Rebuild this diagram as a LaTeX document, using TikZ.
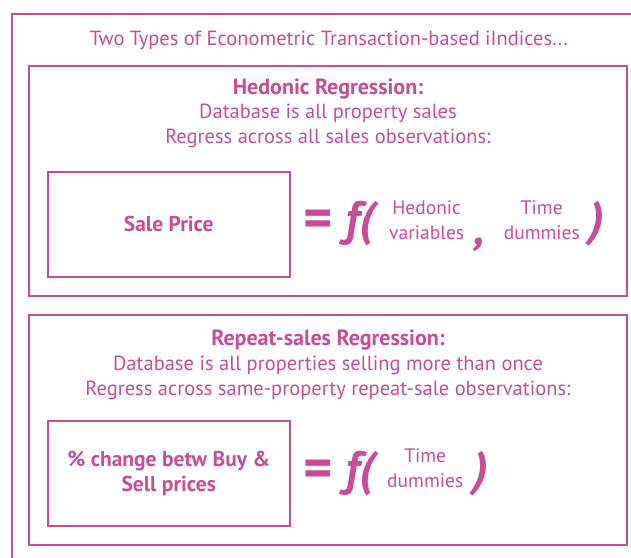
\documentclass[tikz,border=0pt]{standalone}
\usepackage{fontspec}
\setmainfont{PT Sans}
\usetikzlibrary{positioning}
\definecolor{regpink}{RGB}{201,76,151}

\begin{document}
\begin{tikzpicture}[x=1pt, y=1pt,
    panel/.style={draw=regpink, line width=2pt, minimum width=598pt, minimum height=230pt, inner sep=0pt},
    lhs/.style={draw=regpink, line width=2pt, minimum width=242pt, minimum height=105pt, text=regpink, align=center, font=\bfseries\fontsize{21.5}{25}\selectfont},
    head/.style={text=regpink, inner sep=0pt, font=\bfseries\fontsize{22}{25}\selectfont},
    txt/.style={text=regpink, align=center, inner sep=0pt, font=\fontsize{20.5}{25}\selectfont},
    args/.style={text=regpink, align=center, inner sep=0pt, font=\fontsize{19.5}{25}\selectfont},
    eqsym/.style={text=regpink, inner sep=0pt, font=\bfseries\fontsize{56}{56}\selectfont},
    bigsym/.style={text=regpink, inner sep=0pt, font=\bfseries\itshape\fontsize{48}{48}\selectfont}]
    \useasboundingbox (0,0) rectangle (631,-557);

    % outer frame, open to the right and bottom
    \draw[regpink, line width=2pt] (12,-570) -- (12,-13.7) -- (650,-13.7);
    \node[txt] (title) at (329,-40) {Two Types of Econometric Transaction-based iIndices...};

    % hedonic
    \node[panel] (hedpanel) at (328,-180.7) {};
    \node[head] (hedhead) at (328,-89) {Hedonic Regression:};
    \node[txt] (hedtext) at (328,-125.5) {Database is all property sales\\Regress across all sales observations:};
    \node[lhs] (sale) at (168.7,-224) {Sale Price};
    \node[eqsym, right=13pt of sale] (eq1) {=};
    \node[bigsym, right=12pt of eq1] (f1) {f(};
    \node[args, right=14pt of f1, yshift=4pt] (hedvars) {Hedonic\\variables};
    \node[bigsym, right=10pt of hedvars, yshift=-25pt] (comma) {,};
    \node[args, right=18pt of comma, yshift=25pt] (time1) {Time\\dummies};
    \node[bigsym, right=9pt of time1, yshift=-4pt] (close1) {)};

    % repeat sales
    \node[panel] (rspanel) at (328,-429.5) {};
    \node[head] (rshead) at (328,-340) {Repeat-sales Regression:};
    \node[txt] (rstext) at (328,-377.5) {Database is all properties selling more than once\\Regress across same-property repeat-sale observations:};
    \node[lhs] (change) at (168.7,-473.5) {\% change betw Buy \&\\Sell prices};
    \node[eqsym, right=13pt of change] (eq2) {=};
    \node[bigsym, right=12pt of eq2] (f2) {f(};
    \node[args, right=12pt of f2, yshift=5pt] (time2) {Time\\dummies};
    \node[bigsym, right=10pt of time2, yshift=-5pt] (close2) {)};
\end{tikzpicture}
\end{document}
